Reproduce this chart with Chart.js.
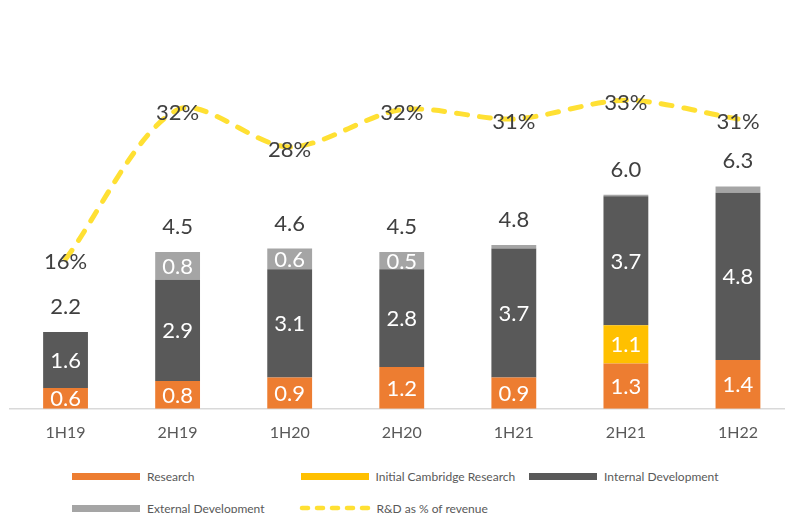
<!DOCTYPE html>
<html>
<head>
<meta charset="utf-8">
<script src="https://cdn.jsdelivr.net/npm/chart.js@4.4.1/dist/chart.umd.min.js"></script>
<style>
  html, body { margin: 0; padding: 0; background: #fff; overflow: hidden; }
  #wrap { position: relative; width: 785px; height: 513px; overflow: hidden; font-family: Lato, sans-serif; }
  #chart { position: absolute; left: 0; top: 0; }
  .leg { position: absolute; display: flex; align-items: center; height: 14px; font-size: 12px; color: #595959; white-space: nowrap; }
  .leg .sw { display: inline-block; width: 68px; height: 7px; margin-right: 7px; }
  .leg svg { margin-right: 5px; }
</style>
</head>
<body>
<div id="wrap">
  <canvas id="chart" width="800" height="450"></canvas>
  <div id="legend"></div>
</div>
<script>
const categories = ["1H19", "2H19", "1H20", "2H20", "1H21", "2H21", "1H22"];
const research = [0.6, 0.8, 0.9, 1.2, 0.9, 1.3, 1.4];
const cambridge = [0, 0, 0, 0, 0, 1.1, 0];
const internalDev = [1.6, 2.9, 3.1, 2.8, 3.7, 3.7, 4.8];
const externalDev = [0, 0.8, 0.6, 0.5, 0.1, 0.04, 0.18];
const totals = [2.2, 4.5, 4.6, 4.5, 4.8, 6.0, 6.3];
const rdPercent = [16, 32, 28, 32, 31, 33, 31];

const LINE_COLOR = "#FFE033";

// draws the numbers on the bars, the totals and the % labels
const labelPlugin = {
  id: "valueLabels",
  afterDatasetsDraw(chart) {
    const ctx = chart.ctx;
    ctx.save();
    ctx.textAlign = "center";
    ctx.textBaseline = "middle";
    ctx.font = "22px Lato";
    chart.data.datasets.forEach((ds, di) => {
      const meta = chart.getDatasetMeta(di);
      if (ds.type === "line") {
        ctx.fillStyle = "#404040";
        meta.data.forEach((pt, i) => {
          ctx.fillText(ds.data[i] + "%", pt.x, pt.y + 3);
        });
      } else {
        ctx.fillStyle = "#ffffff";
        meta.data.forEach((bar, i) => {
          if (ds.data[i] < 0.3) return;
          ctx.fillText(ds.data[i].toFixed(1), bar.x, (bar.y + bar.base) / 2 + 1);
        });
      }
    });
    // totals above the stack
    const top = chart.getDatasetMeta(4);
    ctx.fillStyle = "#404040";
    top.data.forEach((bar, i) => {
      ctx.fillText(totals[i].toFixed(1), bar.x, bar.y - 25);
    });
    ctx.restore();
  }
};

const chart = new Chart(document.getElementById("chart"), {
  data: {
    labels: categories,
    datasets: [
      {
        type: "line",
        label: "R&D as % of revenue",
        data: rdPercent,
        yAxisID: "y2",
        borderColor: LINE_COLOR,
        borderWidth: 5,
        borderDash: [11, 12],
        borderCapStyle: "round",
        tension: 0.3,
        pointRadius: 0,
        fill: false,
        order: 0,
      },
      { type: "bar", label: "Research", data: research, backgroundColor: "#ED7D31", stack: "s", order: 1 },
      { type: "bar", label: "Initial Cambridge Research", data: cambridge, backgroundColor: "#FFC000", stack: "s", order: 1 },
      { type: "bar", label: "Internal Development", data: internalDev, backgroundColor: "#595959", stack: "s", order: 1 },
      { type: "bar", label: "External Development", data: externalDev, backgroundColor: "#A5A5A5", stack: "s", order: 1 },
    ],
  },
  options: {
    responsive: false,
    animation: false,
    layout: { padding: { left: 9.5, right: 6, top: 10, bottom: 2 } },
    datasets: { bar: { barPercentage: 0.4, categoryPercentage: 1 } },
    plugins: { legend: { display: false }, tooltip: { enabled: false } },
    scales: {
      x: {
        stacked: true,
        grid: { display: false },
        border: { display: true, color: "#D9D9D9", width: 1.5 },
        ticks: { color: "#595959", font: { family: "Lato", size: 16 }, padding: 6 },
      },
      y: { stacked: true, display: false, min: 0, max: 11.44 },
      y2: { display: false, min: 0, max: 42.66 },
    },
  },
  plugins: [labelPlugin],
});

// html legend laid out in columns like the original
const legendEl = document.getElementById("legend");
const legendOrder = [1, 2, 3, 4, 0];
legendOrder.forEach((di, k) => {
  const ds = chart.data.datasets[di];
  const item = document.createElement("div");
  item.className = "leg";
  item.style.left = (72 + (k % 3) * 228.5) + "px";
  item.style.top = (k < 3 ? 469 : 501) + "px";
  if (ds.type === "line") {
    item.innerHTML = '<svg width="73" height="8"><line x1="3" y1="4" x2="70" y2="4" stroke="' + LINE_COLOR +
      '" stroke-width="4.5" stroke-linecap="round" stroke-dasharray="6 9"/></svg>';
    item.style.left = (72 + (k % 3) * 228.5 - 2) + "px";
  } else {
    item.innerHTML = '<span class="sw" style="background:' + ds.backgroundColor + '"></span>';
  }
  item.appendChild(document.createTextNode(ds.label));
  legendEl.appendChild(item);
});
</script>
</body>
</html>
